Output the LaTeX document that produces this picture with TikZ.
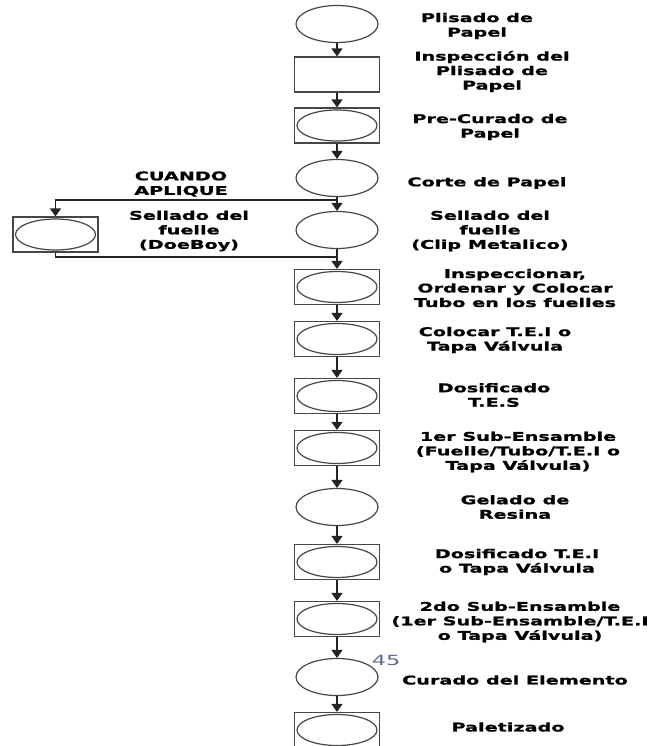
\documentclass[tikz,border=0pt]{standalone}
\usepackage{fontspec}
\newfontfamily\labfont[FakeStretch=1.6, BoldFeatures={FakeBold=1.2}]{DejaVu Sans}
\usetikzlibrary{arrows.meta, shapes.geometric, positioning, calc}
\definecolor{lineclr}{RGB}{35,35,35}
\definecolor{shapeclr}{RGB}{70,70,70}
\definecolor{numclr}{RGB}{95,105,140}

\begin{document}
\begin{tikzpicture}[x=1pt, y=-1pt,
            opr/.style={draw=shapeclr, ellipse, line width=1.2pt, minimum width=82pt, minimum height=37pt, inner sep=0pt},
            insp/.style={draw=shapeclr, rectangle, line width=1.2pt, minimum width=85pt, minimum height=35pt, inner sep=0pt},
            comb/.style={insp, path picture={\draw[shapeclr, line width=1.2pt] (path picture bounding box.center) ellipse (40pt and 15.5pt);}},
            lbl/.style={font=\labfont\bfseries\fontsize{12}{14.5}\selectfont, align=center, inner sep=0pt},
            arr/.style={-{Triangle[width=11pt,length=8pt]}, line width=1.4pt, lineclr},
            lin/.style={line width=1.4pt, lineclr}
        ]
            \useasboundingbox (0,0) rectangle (653,746);
            % main column
            \node[opr]  (plisado)  at (337,24)  {};
            \node[insp] (inspplis) at (337,74.5) {};
            \node[comb] (precur)   at (337,125.5) {};
            \node[opr]  (corte)    at (337,178) {};
            \node[opr]  (clip)     at (337,230) {};
            \node[comb] (tubo)     at (337,287) {};
            \node[comb] (tei)      at (337,339) {};
            \node[comb] (tes)      at (337,396) {};
            \node[comb] (subuno)   at (337,448) {};
            \node[opr]  (gelado)   at (337,507) {};
            \node[comb] (dosif)    at (337,562) {};
            \node[comb] (subdos)   at (337,619) {};
            \node[opr]  (curado)   at (337,677) {};
            \node[comb] (palet)    at (337,730) {};
            % branch
            \node[comb] (doeboy)   at (55.5,234.5) {};
            \coordinate (br) at (337,200);
            \coordinate (jn) at (337,257);

            \draw[arr] (plisado) -- (inspplis);
            \draw[arr] (inspplis) -- (precur);
            \draw[arr] (precur) -- (corte);
            \draw[arr] (corte) -- (clip);
            \draw[arr] (br) -| (doeboy);
            \draw[lin] (doeboy) |- (jn);
            \draw[arr] (clip) -- (tubo);
            \draw[arr] (tubo) -- (tei);
            \draw[arr] (tei) -- (tes);
            \draw[arr] (tes) -- (subuno);
            \draw[arr] (subuno) -- (gelado);
            \draw[arr] (gelado) -- (dosif);
            \draw[arr] (dosif) -- (subdos);
            \draw[arr] (subdos) -- (curado);
            \draw[arr] (curado) -- (palet);

            % labels
            \node[lbl] (lplisado)  at (477,26)  {Plisado de\\Papel};
            \node[lbl] (linspplis) at (492,71.5) {Inspección del\\Plisado de\\Papel};
            \node[lbl] (lprecur)   at (490,127) {Pre-Curado de\\Papel};
            \node[lbl] (lcorte)    at (487,183) {Corte de Papel};
            \node[lbl] (lcuando)   at (181,184) {CUANDO\\APLIQUE};
            \node[lbl] (ldoeboy)   at (189,231) {Sellado del\\fuelle\\(DoeBoy)};
            \node[lbl] (lclip)     at (490,231) {Sellado del\\fuelle\\(Clip Metalico)};
            \node[lbl] (ltubo)     at (515,288) {Inspeccionar,\\Ordenar y Colocar\\Tubo en los fuelles};
            \node[lbl] (ltei)      at (495,340) {Colocar T.E.I o\\Tapa Válvula};
            \node[lbl] (ltes)      at (494,395) {Dosificado\\T.E.S};
            \node[lbl] (lsubuno)   at (518,452) {1er Sub-Ensamble\\(Fuelle/Tubo/T.E.I o\\Tapa Válvula)};
            \node[lbl] (lgelado)   at (515,507) {Gelado de\\Resina};
            \node[lbl] (ldosif)    at (517,562) {Dosificado T.E.I\\o Tapa Válvula};
            \node[lbl] (lsubdos)   at (520,622) {2do Sub-Ensamble\\(1er Sub-Ensamble/T.E.I\\o Tapa Válvula)};
            \node[lbl] (lcurado)   at (515,680) {Curado del Elemento};
            \node[lbl] (lpalet)    at (508,727) {Paletizado};
            \node[font=\labfont\fontsize{14}{14}\selectfont, text=numclr, inner sep=0pt] (num) at (386,660) {45};
        \end{tikzpicture}
\end{document}
